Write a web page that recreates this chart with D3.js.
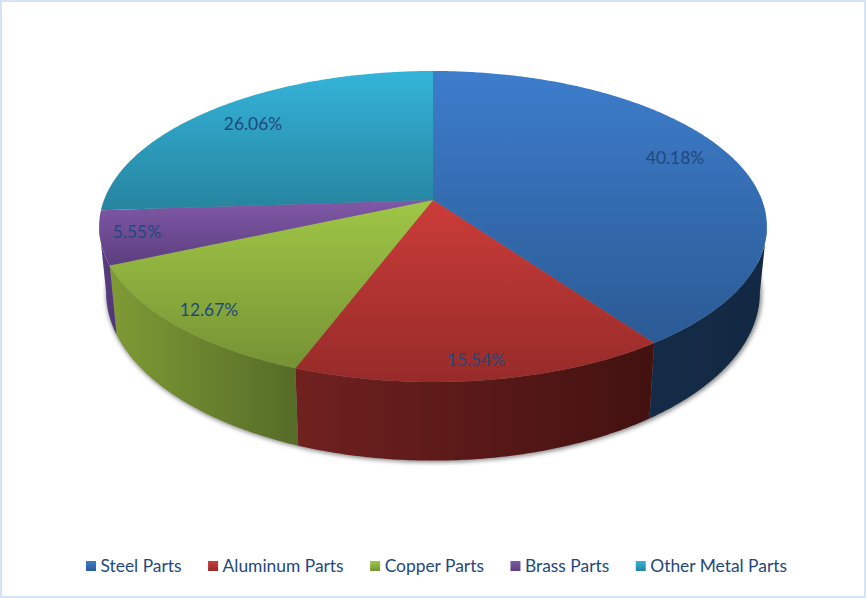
<!DOCTYPE html>
<html><head><meta charset="utf-8">
<script src="https://cdn.jsdelivr.net/npm/d3@7/dist/d3.min.js"></script>
<style>html,body{margin:0;padding:0;background:#fff;overflow:hidden}svg{display:block}</style>
</head><body>
<script>
const categories = ["Steel Parts","Aluminum Parts","Copper Parts","Brass Parts","Other Metal Parts"];
const shares = [40.18,15.54,12.67,5.55,26.06];
const shareLabels = ["40.18%","15.54%","12.67%","5.55%","26.06%"];
const topLight = ["#3d7dcc","#cb3c39","#a0c746","#8059a8","#34b4d9"];
const topDark = ["#2b5a94","#962b29","#769234","#5c3e7e","#26849f"];
const wallLight = ["#142b47","#702120","#7f9b35","#5c3f88","#26849f"];
const wallDark = ["#132842","#421110","#556b27","#4f3474","#26849f"];
const labelAnchors = [[675,157],[476,359],[209,309],[137,231],[253,123]];

const W=866,H=598;
const FONT="Lato, 'Open Sans', sans-serif";
const FS=17.4;
const svg=d3.select("body").append("svg").attr("width",W).attr("height",H);
const defs=svg.append("defs");
svg.append("rect").attr("x",1).attr("y",1).attr("width",W-2).attr("height",H-2)
  .attr("fill","#fff").attr("stroke","#d5e3f3").attr("stroke-width",2);

// perspective projection of the unit disc onto the chart plane
const cx=433, apexY=200, k=0.1704, bx=329, by=151;
const topCy=226, topRx=334, topRy=155, botCy=292, botRx=327, botRy=167.5;
const proj=(r,a)=>{const u=r*Math.sin(a),v=-r*Math.cos(a),d=1-k*v;return [cx+bx*u/d,apexY+by*v/d];};
const lower=([x,y])=>[cx+(x-cx)*botRx/topRx,botCy+(y-topCy)*botRy/topRy];
const line=d3.line();
const arcPts=(a,b)=>{const n=Math.max(2,Math.ceil(Math.abs(b-a)/0.01));return d3.range(n+1).map(i=>proj(1,a+(b-a)*i/n));};

const arcs=d3.pie().sort(null).value(d=>d)(shares);
const L=Math.acos(-((topCy-apexY)/(by+k*(topCy-apexY))));
const rimRight=L, rimLeft=2*Math.PI-L;

arcs.forEach((s,i)=>{
  const g=defs.append("linearGradient").attr("id","t"+i).attr("x1",0).attr("y1",0).attr("x2",0).attr("y2",1);
  g.append("stop").attr("offset",0).attr("stop-color",topLight[i]);
  g.append("stop").attr("offset",1).attr("stop-color",topDark[i]);
  const w=defs.append("linearGradient").attr("id","w"+i).attr("x1",0).attr("y1",0).attr("x2",1).attr("y2",0);
  w.append("stop").attr("offset",0).attr("stop-color",wallLight[i]);
  w.append("stop").attr("offset",1).attr("stop-color",wallDark[i]);
});

// soft shadow under the drum
const blur=defs.append("filter").attr("id","sh").attr("x","-10%").attr("y","-10%").attr("width","120%").attr("height","120%");
blur.append("feGaussianBlur").attr("stdDeviation",2.2);
svg.append("ellipse").attr("cx",cx+1).attr("cy",botCy+2).attr("rx",botRx+1).attr("ry",botRy+1)
  .attr("fill","#000").attr("fill-opacity",0.45).attr("filter","url(#sh)");

// walls
const walls=svg.append("g");
arcs.forEach((s,i)=>{
  const a=Math.max(s.startAngle,rimRight), b=Math.min(s.endAngle,rimLeft);
  if(b<=a) return;
  const up=arcPts(a,b), dn=up.map(lower).reverse();
  walls.append("path").attr("d",line(up.concat(dn))+"Z").attr("fill",`url(#w${i})`);
});

// top face
const faces=svg.append("g");
arcs.forEach((s,i)=>{
  const pts=[[cx,apexY]].concat(arcPts(s.startAngle,s.endAngle));
  faces.append("path").attr("d",line(pts)+"Z").attr("fill",`url(#t${i})`);
});

// data labels
svg.append("g").selectAll("text").data(shareLabels).join("text")
  .attr("x",(d,i)=>labelAnchors[i][0]).attr("y",(d,i)=>labelAnchors[i][1]+7)
  .attr("text-anchor","middle").attr("font-family",FONT).attr("font-size",FS)
  .attr("fill","#1f497d").text(d=>d);

// legend
const legend=svg.append("g");
let lx=86; const ly=566;
categories.forEach((c,i)=>{
  const g=defs.append("linearGradient").attr("id","l"+i).attr("x1",0).attr("y1",0).attr("x2",0).attr("y2",1);
  g.append("stop").attr("offset",0).attr("stop-color",topLight[i]);
  g.append("stop").attr("offset",1).attr("stop-color",topDark[i]);
  legend.append("rect").attr("x",lx).attr("y",ly-5).attr("width",10).attr("height",10).attr("fill",`url(#l${i})`);
  const t=legend.append("text").attr("x",lx+14.5).attr("y",ly+6).attr("font-family",FONT).attr("font-size",FS)
    .attr("fill","#1f497d").text(c);
  lx+=14.5+t.node().getComputedTextLength()+26.5;
});
</script>
</body></html>
